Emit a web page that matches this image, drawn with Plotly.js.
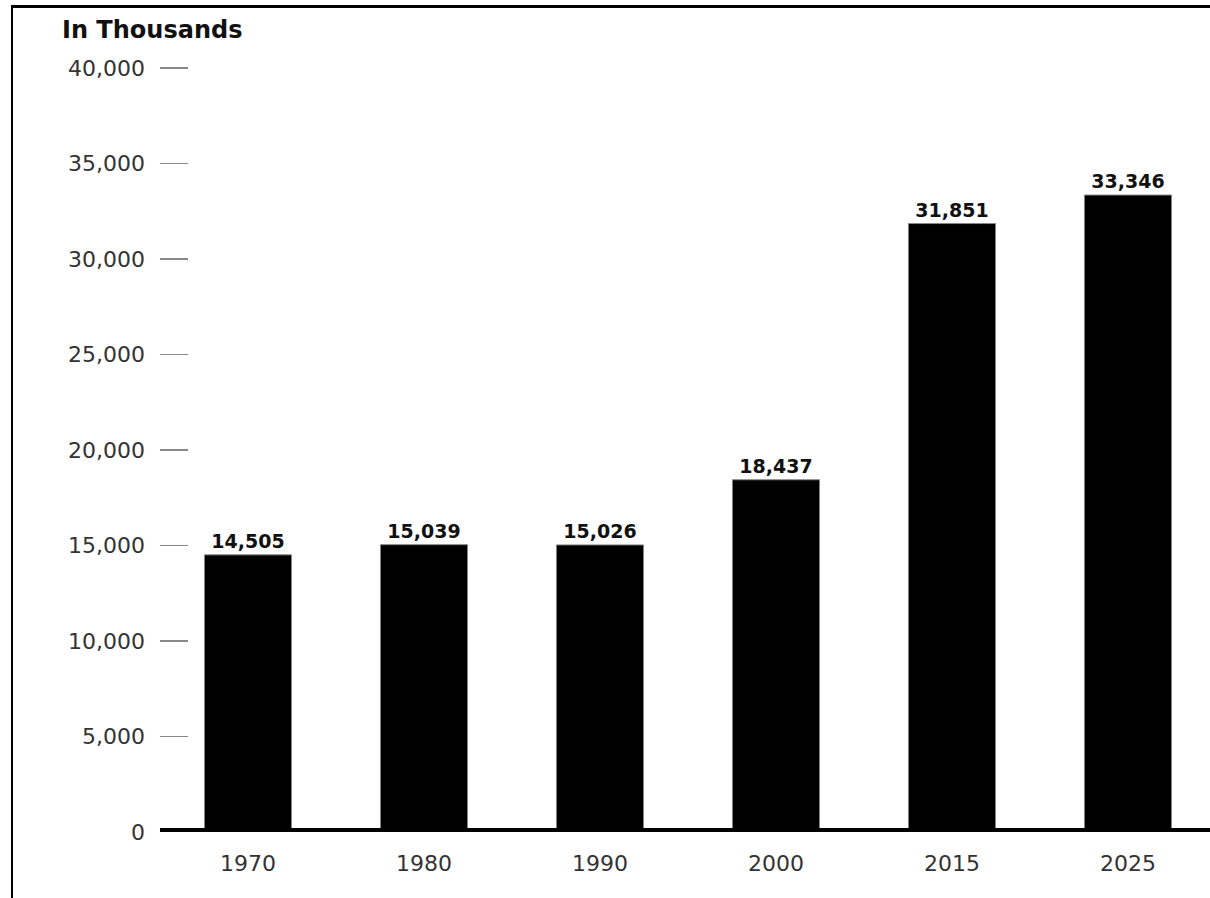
<!DOCTYPE html>
<html>
<head>
<meta charset="utf-8">
<script src="https://cdn.plot.ly/plotly-3.0.1.min.js"></script>
<style>
  html, body { margin: 0; padding: 0; background: #fff; overflow: hidden; }
  #wrap { position: relative; width: 1210px; height: 898px; }
  #chart { width: 1210px; height: 898px; }
  #frame { position: absolute; left: 11px; top: 5px; width: 1300px; height: 1000px;
           border-left: 2px solid #000; border-top: 3px solid #000; pointer-events: none; }
</style>
</head>
<body>
<div id="wrap">
  <div id="chart"></div>
  <div id="frame"></div>
</div>
<script>
const years = ["1970", "1980", "1990", "2000", "2015", "2025"];
const values = [14505, 15039, 15026, 18437, 31851, 33346];
const yTicks = [0, 5000, 10000, 15000, 20000, 25000, 30000, 35000, 40000];
const yTickText = ["0", "5,000", "10,000", "15,000", "20,000", "25,000", "30,000", "35,000", "40,000"];
const unitLabel = "In Thousands";

const fmt = v => v.toLocaleString("en-US");

const trace = {
  type: "bar",
  x: years,
  y: values,
  text: values.map(fmt),
  textposition: "outside",
  cliponaxis: false,
  textfont: { family: "DejaVu Sans", size: 19, color: "#111", weight: "bold" },
  marker: { color: "#000", line: { color: "#888", width: 1 } },
  hoverinfo: "skip"
};

const layout = {
  width: 1210,
  height: 898,
  margin: { l: 160, r: 0, t: 66, b: 66, pad: 0 },
  paper_bgcolor: "#fff",
  plot_bgcolor: "#fff",
  showlegend: false,
  bargap: 0.505,
  font: { family: "DejaVu Sans", color: "#333" },
  title: {
    text: "<b>" + unitLabel + "</b>",
    x: 62 / 1210, xanchor: "left", xref: "container",
    y: 1 - 30 / 898, yanchor: "middle", yref: "container",
    font: { family: "DejaVu Sans", size: 24, color: "#111" }
  },
  xaxis: {
    type: "category",
    range: [-0.5, 5.466],
    showgrid: false, zeroline: false, showline: false,
    ticks: "",
    ticklabelstandoff: 16,
    tickfont: { family: "DejaVu Sans", size: 22, color: "#333" },
    fixedrange: true
  },
  yaxis: {
    range: [-5, 40100],
    tickvals: yTicks,
    ticktext: yTickText,
    showgrid: false, zeroline: false, showline: false,
    ticks: "inside", ticklen: 28, tickwidth: 1.5, tickcolor: "#888",
    ticklabelstandoff: 14,
    tickfont: { family: "DejaVu Sans", size: 22, color: "#333" },
    fixedrange: true
  },
  shapes: [{
    type: "line", xref: "paper", x0: 0, x1: 1, yref: "y", y0: 0, y1: 0,
    line: { color: "#000", width: 8 }, layer: "above"
  }]
};

Plotly.newPlot("chart", [trace], layout, { displayModeBar: false, staticPlot: true });
</script>
</body>
</html>
